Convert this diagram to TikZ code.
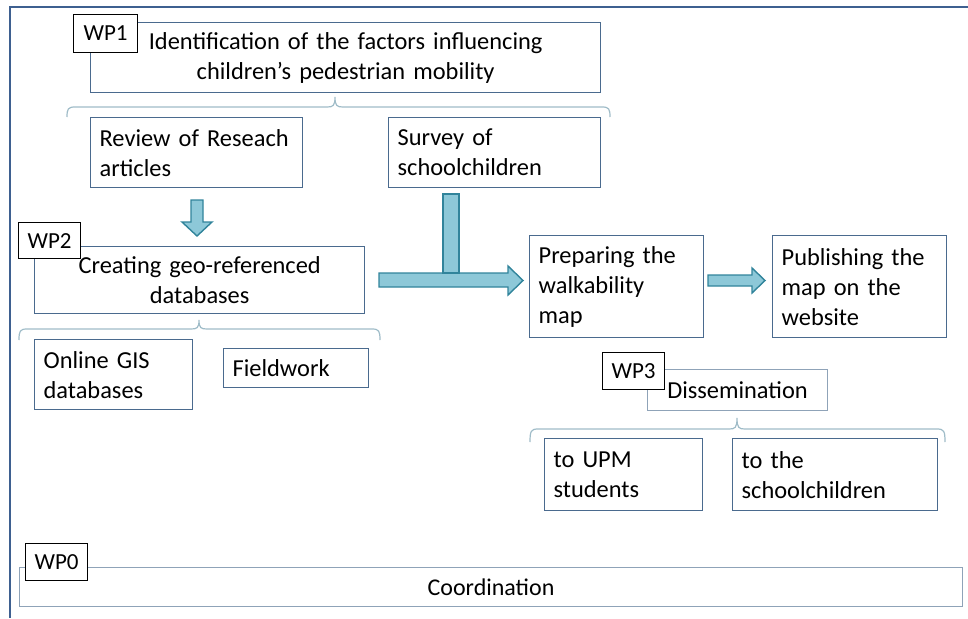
\documentclass[tikz,border=0pt]{standalone}
\usepackage{fontspec}
\setmainfont{Carlito}
\definecolor{boxc}{HTML}{4A6A8E}
\definecolor{lightc}{HTML}{8FA3B8}
\definecolor{bracec}{HTML}{9FBCC8}
\definecolor{arrfill}{HTML}{8DC8D8}
\definecolor{arrdraw}{HTML}{31849B}
\definecolor{framec}{HTML}{3E6090}
\newcommand{\mainfs}{\fontsize{24.4}{30}\selectfont}
\newcommand{\wpfs}{\fontsize{23}{26}\selectfont}
\tikzset{
  bx/.style={draw=boxc, line width=1.3pt, fill=white, inner ysep=0pt, inner xsep=9pt,
     anchor=north west, font=\mainfs, align=left},
  lbx/.style={bx, draw=lightc, line width=1pt, align=center},
  wplabel/.style={draw=black, line width=1.1pt, fill=white, inner sep=0pt,
     anchor=north west, font=\wpfs, align=center},
  blockarrow/.style={fill=arrfill, draw=arrdraw, line width=1.4pt, line join=miter},
  bracepath/.style={draw=bracec, line width=1.2pt},
}
\begin{document}
\begin{tikzpicture}[x=1pt,y=-1pt]
\useasboundingbox (0,0) rectangle (968,618);
% outer frame
\draw[framec, line width=1.5pt] (968,7) -- (10,7) -- (10,618);

% WP1
\node[bx, align=center, text width=492pt, minimum height=70pt] (wp1box) at (90,22)
  {Identification of the factors influencing\\children’s pedestrian mobility};
\node[wplabel, minimum width=64pt, minimum height=38pt] (wp1) at (73,14) {WP1};

% brace WP1
\draw[bracepath] (67,117) .. controls (67,109) and (68,107) .. (75,107) -- (327,107)
  .. controls (333,107) and (335,106) .. (335,97)
  .. controls (335,106) and (337,107) .. (343,107) -- (602,107)
  .. controls (609,107) and (610,109) .. (610,117);

\node[bx, text width=194pt, minimum height=70pt] (review) at (90,117) {Review of Reseach\\articles};
\node[bx, text width=194pt, minimum height=70pt] (survey) at (388,117) {Survey of\\schoolchildren};

% WP2
\node[bx, align=center, text width=312pt, minimum height=67pt] (wp2box) at (34,246)
  {Creating geo-referenced\\databases};
\node[wplabel, minimum width=62pt, minimum height=36pt] (wp2) at (18,222) {WP2};

% brace WP2
\draw[bracepath] (19,340) .. controls (19,331) and (20,329) .. (27,329) -- (191,329)
  .. controls (197,329) and (199,328) .. (199,320)
  .. controls (199,328) and (201,329) .. (207,329) -- (372,329)
  .. controls (379,329) and (380,331) .. (380,340);

\node[bx, text width=140pt, minimum height=70pt] (online) at (34,339) {Online GIS\\databases};
\node[bx, text width=127pt, minimum height=39pt] (field) at (223,348) {Fieldwork};

% right part
\node[bx, text width=156pt, minimum height=102pt] (prep) at (529,235) {Preparing the\\walkability\\map};
\node[bx, text width=156pt, minimum height=102pt] (publ) at (772,235) {Publishing the\\map on the\\website};

% WP3
\node[lbx, text width=162pt, minimum height=41pt] (diss) at (647,369) {Dissemination};
\node[wplabel, minimum width=62pt, minimum height=37pt] (wp3) at (602,352) {WP3};

% brace WP3
\draw[bracepath] (530,442) .. controls (530,431) and (531,429) .. (538,429) -- (729,429)
  .. controls (735,429) and (737,428) .. (737,418)
  .. controls (737,428) and (739,429) .. (745,429) -- (937,429)
  .. controls (944,429) and (945,431) .. (945,442);

\node[bx, text width=140pt, minimum height=72pt] (upm) at (544,438) {to UPM\\students};
\node[bx, text width=187pt, minimum height=72pt] (school) at (732,438) {to the\\schoolchildren};

% WP0
\node[lbx, text width=925pt, minimum height=39pt, font=\fontsize{24}{28}\selectfont] (coord) at (19,567) {Coordination};
\node[wplabel, minimum width=62pt, minimum height=37pt] (wp0) at (25,543) {WP0};

% block arrows
% review -> wp2box
\draw[blockarrow] (191,200) -- (203,200) -- (203,222) -- (212,222) -- (197,236)
  -- (182,222) -- (191,222) -- cycle;
% survey / wp2box -> prep (T arrow)
\draw[blockarrow] (379,273) -- (508,273) -- (508,266) -- (523,280.5) -- (508,295)
  -- (508,287) -- (379,287) -- cycle;
\draw[blockarrow] (443,194) -- (459,194) -- (459,273) -- (443,273) -- cycle;
% prep -> publ
\draw[blockarrow] (708,275) -- (752,275) -- (752,268) -- (765,280.5) -- (752,293)
  -- (752,286) -- (708,286) -- cycle;
\end{tikzpicture}
\end{document}
